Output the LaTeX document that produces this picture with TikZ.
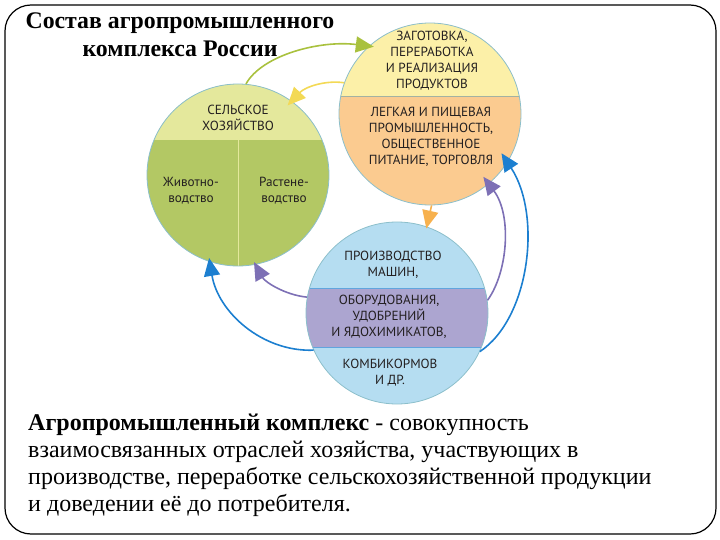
\documentclass[tikz,border=0pt]{standalone}
\usepackage{fontspec}
\setmainfont{Liberation Serif}
\newfontfamily\circfont{PT Sans}
\usetikzlibrary{arrows.meta}
\definecolor{agtop}{HTML}{E4E89C}
\definecolor{aglow}{HTML}{B3C864}
\definecolor{prtop}{HTML}{FCF0A8}
\definecolor{prlow}{HTML}{FBCB90}
\definecolor{mblue}{HTML}{B5DDF1}
\definecolor{mpurp}{HTML}{ACA5D0}
\definecolor{rim}{HTML}{8CBFCB}
\definecolor{arrgreen}{HTML}{A9C13E}
\definecolor{arryel}{HTML}{F3D955}
\definecolor{arrorange}{HTML}{F7B14E}
\definecolor{arrpurp}{HTML}{7D70B5}
\definecolor{arrblue}{HTML}{1C7FD0}
\definecolor{txt}{HTML}{231F20}
\begin{document}
\begin{tikzpicture}[x=1pt,y=-1pt,
  circ/.style={circle, draw=rim, line width=0.8pt, minimum size=182pt, inner sep=0pt},
  lbl/.style={font=\circfont\fontsize{13.2}{16}\selectfont, align=center, text=txt, inner sep=0pt},
  conn/.style={line width=1.6pt, -{Triangle[length=18pt,width=16pt]}},
  ttl/.style={font=\fontsize{23.8}{28}\selectfont\bfseries, align=center, inner sep=0pt},
  body/.style={font=\fontsize{24}{27}\selectfont, align=left, anchor=north west, inner sep=0pt}]
\useasboundingbox (0,0) rectangle (720,540);
\draw[black, line width=1.2pt, rounded corners=26pt] (5,5) rectangle (716,534);
% fills
\begin{scope}
  \clip (238,175) circle[radius=91pt];
  \fill[aglow] (140,80) rectangle (340,270);
  \fill[agtop] (140,80) rectangle (340,140);
  \draw[agtop, line width=1pt] (238,140) -- (238,270);
\end{scope}
\begin{scope}
  \clip (430,114) circle[radius=91pt];
  \fill[prlow] (330,20) rectangle (530,210);
  \fill[prtop] (330,20) rectangle (530,96);
  \draw[rim!80!orange, line width=0.6pt] (330,96) -- (530,96);
\end{scope}
\begin{scope}
  \clip (397,313) circle[radius=91pt];
  \fill[mblue] (300,220) rectangle (500,410);
  \fill[mpurp] (300,288) rectangle (500,347);
  \draw[arrblue!70, line width=0.6pt] (300,288) -- (500,288) (300,347) -- (500,347);
\end{scope}
\node[circ] (A) at (238,175) {};
\node[circ] (B) at (430,114) {};
\node[circ] (C) at (397,313) {};
% labels
\node[lbl] (a1) at (238,118) {СЕЛЬСКОЕ\\ХОЗЯЙСТВО};
\node[lbl] (a2) at (191,191) {Животно-\\водство};
\node[lbl] (a3) at (284,191) {Растене-\\водство};
\node[lbl] (b1) at (432,61) {ЗАГОТОВКА,\\ПЕРЕРАБОТКА\\И РЕАЛИЗАЦИЯ\\ПРОДУКТОВ};
\node[lbl] (b2) at (431,137) {ЛЕГКАЯ И ПИЩЕВАЯ\\ПРОМЫШЛЕННОСТЬ,\\ОБЩЕСТВЕННОЕ\\ПИТАНИЕ, ТОРГОВЛЯ};
\node[lbl] (c1) at (393,265) {ПРОИЗВОДСТВО\\МАШИН,};
\node[lbl] (c2) at (389,317) {ОБОРУДОВАНИЯ,\\УДОБРЕНИЙ\\И ЯДОХИМИКАТОВ,};
\node[lbl] (c3) at (390,373) {КОМБИКОРМОВ\\И ДР.};
% arrows
\draw[conn, arrgreen, shorten >=-5pt] (A.85) .. controls (262,55) and (320,40) .. (B.132);
\draw[conn, arryel, shorten >=-6pt] (B.160) .. controls (325,80) and (305,87) .. (A.54);
\draw[conn, arrorange, shorten >=-2pt] (B.-89) -- (C.71);
\draw[conn, arrpurp, shorten >=-9pt] (C.8) .. controls (508,272) and (512,215) .. (B.-50);
\draw[conn, arrblue, shorten >=-11pt] (C.-25) .. controls (530,318) and (542,215) .. (B.-32);
\draw[conn, arrpurp, shorten >=-3pt] (C.170) .. controls (285,295) and (265,282) .. (A.-79);
\draw[conn, arrblue, shorten >=-4pt] (C.204) .. controls (262,352) and (218,312) .. (A.-108);
% title and text
\node[ttl] (title) at (180,35) {Состав агропромышленного\\комплекса России};
\node[body] (text) at (28,414) {\textbf{Агропромышленный комплекс} - совокупность\\взаимосвязанных отраслей хозяйства, участвующих в\\производстве, переработке сельскохозяйственной продукции\\и доведении её до потребителя.};
\end{tikzpicture}
\end{document}
